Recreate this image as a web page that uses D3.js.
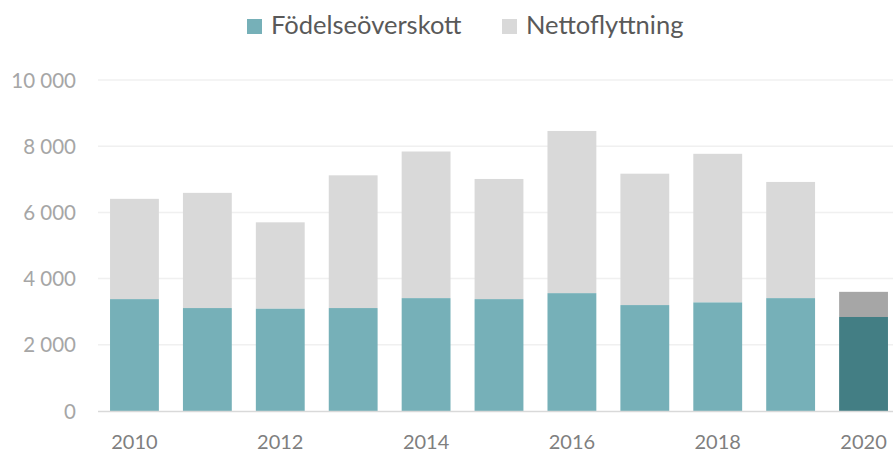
<!DOCTYPE html>
<html><head><meta charset="utf-8">
<script src="https://cdn.jsdelivr.net/npm/d3@7"></script>
<style>
html,body{margin:0;padding:0;background:#fff;overflow:hidden}
svg{display:block}
text{font-family:Lato,"Open Sans",sans-serif}
</style></head>
<body>
<svg id="chart" width="893" height="452"></svg>
<script>
const years = ["2010","2011","2012","2013","2014","2015","2016","2017","2018","2019","2020"];
const fodelseoverskott = [3380,3110,3090,3110,3410,3380,3560,3200,3280,3410,2840];
const nettoflyttning = [3030,3480,2610,4010,4430,3630,4900,3970,4490,3510,760];
const yTicks = [0,2000,4000,6000,8000,10000];
const xLabels = ["2010","2012","2014","2016","2018","2020"];
const seriesNames = ["Födelseöverskott","Nettoflyttning"];
const colors = {fod:"#76B0B8", net:"#D9D9D9", fodHi:"#437E84", netHi:"#A6A6A6"};

const svg = d3.select("#chart");
const x = d3.scaleBand().domain(years).range([98,900]).paddingInner(0.33).paddingOuter(0.165);
const y = d3.scaleLinear().domain([0,10000]).range([411,80]);

// gridlines
svg.append("g").selectAll("line").data(yTicks.filter(d=>d>0)).join("line")
  .attr("x1",98).attr("x2",893).attr("y1",d=>y(d)).attr("y2",d=>y(d))
  .attr("stroke","#F0F0F0").attr("stroke-width",1.5);

// y axis labels
const yAxis = d3.axisLeft(y).tickValues(yTicks).tickSize(0).tickPadding(0);
const ya = svg.append("g").attr("transform","translate(76,0)").call(yAxis);
ya.select(".domain").remove();
ya.selectAll("text").attr("fill","#A6A6A6").style("font-size","20.5px").attr("dy","0.35em")
  .text(d=>d===0?"0":d3.format(",")(d).replace(/,/g," "));

// bars
const last = years.length-1;
const g = svg.append("g");
years.forEach((yr,i)=>{
  const f = fodelseoverskott[i], n = nettoflyttning[i];
  g.append("rect").attr("x",x(yr)).attr("width",x.bandwidth())
    .attr("y",y(f+n)).attr("height",y(f)-y(f+n))
    .attr("fill",i===last?colors.netHi:colors.net);
  g.append("rect").attr("x",x(yr)).attr("width",x.bandwidth())
    .attr("y",y(f)).attr("height",y(0)-y(f))
    .attr("fill",i===last?colors.fodHi:colors.fod);
});

// baseline
svg.append("line").attr("x1",98).attr("x2",893).attr("y1",y(0)+0.5).attr("y2",y(0)+0.5)
  .attr("stroke","#D9D9D9").attr("stroke-width",1.5);

// x axis
const xAxis = d3.axisBottom(x).tickValues(xLabels).tickSize(0).tickPadding(0);
const xa = svg.append("g").attr("transform","translate(0,449)").call(xAxis);
xa.select(".domain").remove();
xa.selectAll("text").attr("fill","#7F7F7F").style("font-size","20px").attr("dy","0");

// legend
const leg = svg.append("g");
const legItems = [
  {name:seriesNames[0], c:colors.fod, sx:247, tx:271},
  {name:seriesNames[1], c:colors.net, sx:502, tx:526}
];
legItems.forEach(it=>{
  leg.append("rect").attr("x",it.sx).attr("y",19).attr("width",15).attr("height",15).attr("fill",it.c);
  leg.append("text").attr("x",it.tx).attr("y",34).attr("fill","#595959").style("font-size","25.5px").text(it.name);
});
</script>
</body></html>
